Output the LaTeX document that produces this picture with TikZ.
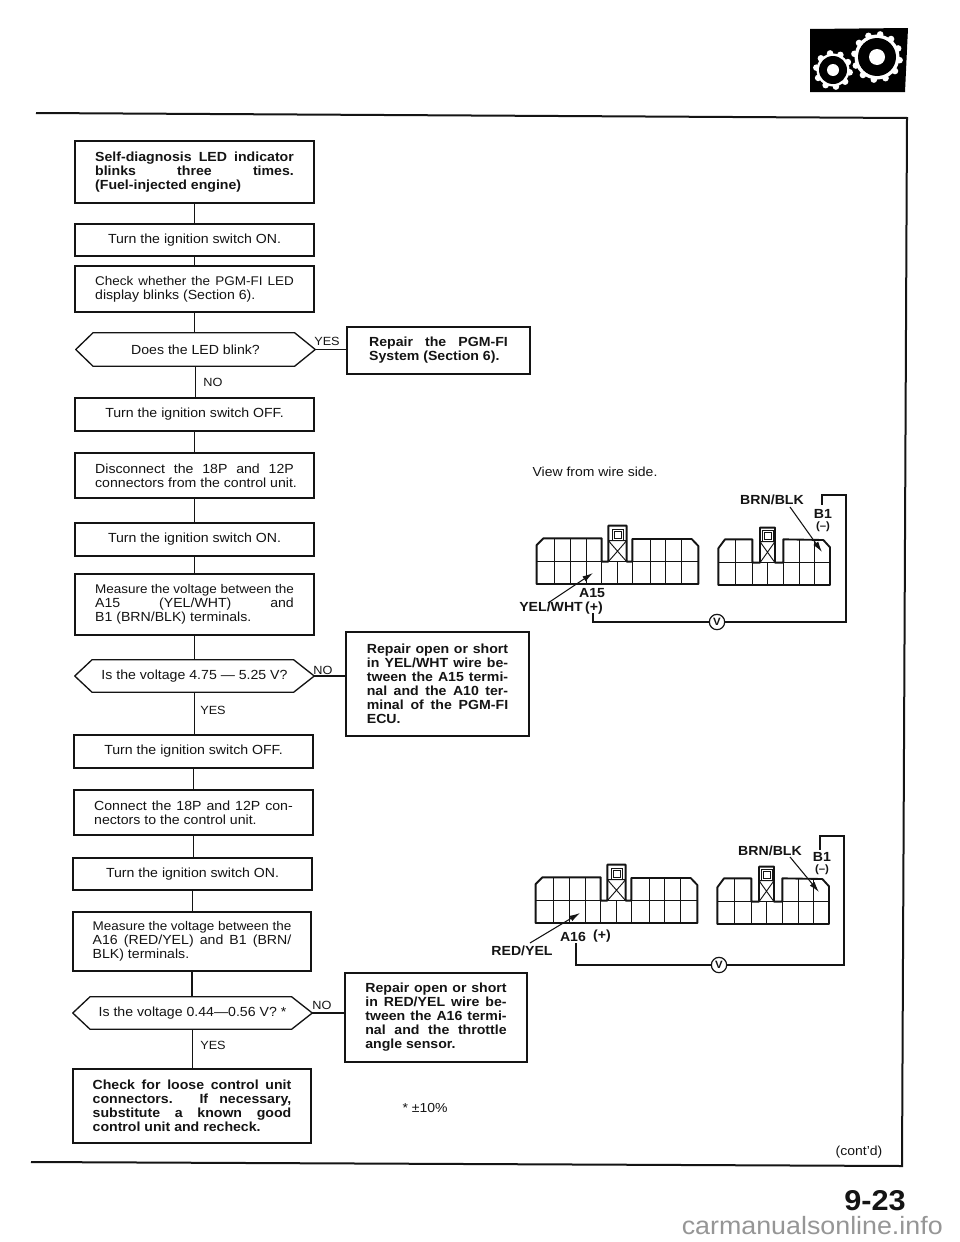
\documentclass[tikz,border=0pt]{standalone}
\usepackage{fontspec}
\setmainfont[FakeStretch=1.07]{Liberation Sans}
\usetikzlibrary{arrows.meta,calc}
\definecolor{ink}{gray}{0.08}
\newlength{\tw}
\newcommand{\lnj}[1]{\makebox[\tw][s]{#1}}
\newcommand{\lnl}[1]{\makebox[\tw][l]{#1}}
\newcommand{\tight}{\fontsize{9.45}{10.5}\selectfont}
\tikzset{
  flowbox/.style={draw=ink,line width=1pt,inner sep=0pt,align=left,text=ink,font=\fontsize{9.9}{10.5}\selectfont},
  boldbox/.style={flowbox,font=\fontsize{9.9}{10.5}\selectfont\bfseries},
  hexnode/.style={inner sep=0pt,text=ink,font=\fontsize{9.9}{10.5}\selectfont},
  link/.style={draw=ink,line width=0.9pt},
  lbl/.style={inner sep=0pt,text=ink,font=\fontsize{8.9}{10}\selectfont},
  txt/.style={inner sep=0pt,text=ink,font=\fontsize{9.8}{10}\selectfont},
  blbl/.style={inner sep=0pt,text=ink,font=\fontsize{9.9}{10}\selectfont\bfseries},
  small bold/.style={inner sep=0pt,text=ink,font=\fontsize{8}{8}\selectfont\bfseries},
  volt/.style={draw=ink,circle,line width=0.9pt,inner sep=0pt,minimum size=11.5pt,text=ink,font=\fontsize{8}{8}\selectfont\bfseries},
  wire/.style={draw=ink,line width=0.9pt},
  leader/.style={draw=ink,line width=0.8pt,-{Latex[length=8pt,width=4.5pt]}},
  heavy/.style={draw=ink,line width=1.5pt},
  thin grid/.style={draw=ink,line width=0.7pt},
  outl/.style={draw=ink,line width=1.4pt,line join=round},
}
\newcommand{\bx}[7][flowbox]{%
  \node[#1,minimum width={(#5-#3)*0.75pt},minimum height={(#6-#4)*0.75pt}] (#2) at ({(#3+#5)/2},{(#4+#6)/2}) {#7};}
\newcommand{\hexa}[6]{% name x1 y1 x2 y2 text
  \node[hexnode,minimum width={(#4-#2)*0.75pt},minimum height={(#5-#3)*0.75pt}] (#1) at ({(#2+#4)/2},{(#3+#5)/2}) {#6};
  \draw[link,line width=1pt,line join=round] (#1.west) -- ([xshift=13pt]#1.north west) -- ([xshift=-15.5pt]#1.north east) -- (#1.east) -- ([xshift=-15.5pt]#1.south east) -- ([xshift=13pt]#1.south west) -- cycle;}
\newcommand{\conn}{%
  \draw[outl] (110,402)--(110,285)--(130,265)--(305,265)--(305,335)--(325,335)--(325,227)--(380,227)--(380,335)--(397,335)--(397,267)--(575,267)--(595,288)--(595,402)--cycle;
  \draw[thin grid] (110,335)--(595,335);
  \foreach \X in {163,212,258,305,352,397,450,497,545} \draw[thin grid] (\X,335)--(\X,402);
  \foreach \X in {163,212,258,450,497,545} \draw[thin grid] (\X,267)--(\X,335);
  \draw[thin grid] (325,272)--(380,272) (325,272)--(380,335) (380,272)--(325,335);
  \draw[thin grid] (336,238)rectangle(370,272) (342,244)rectangle(364,264);
  \draw[outl] (655,405)--(655,295)--(675,268)--(757,268)--(757,338)--(780,338)--(780,233)--(825,233)--(825,338)--(850,338)--(850,268)--(970,270)--(990,292)--(990,405)--cycle;
  \draw[thin grid] (655,338)--(990,338);
  \foreach \X in {707,757,803,850,897,943} \draw[thin grid] (\X,338)--(\X,405);
  \foreach \X in {707,897,943} \draw[thin grid] (\X,270)--(\X,338);
  \draw[thin grid] (780,275)--(825,275) (780,275)--(825,338) (825,275)--(780,338);
  \draw[thin grid] (787,240)rectangle(820,275) (793,246)rectangle(814,268);
}
\newcommand{\gear}[6]{% x y teeth tip body hole
  \fill[white] (#1,#2) circle[radius=#4-3.5];
  \foreach \a in {1,...,#3} \fill[white] ({#1+(#4-3.2)*cos(\a*360/#3+8)},{#2+(#4-3.2)*sin(\a*360/#3+8)}) circle[radius=3.3];
  \fill[black] (#1,#2) circle[radius=#5];
  \fill[white] (#1,#2) circle[radius=#6];
}
\begin{document}
\begin{tikzpicture}[x=0.75pt,y=-0.75pt]
\useasboundingbox (0,0) rectangle (960,1242);
\fill[white] (0,0) rectangle (960,1242);

% icon
\fill[black] (810,29)--(908,28)--(905,92)--(810,92)--cycle;
\gear{833}{70}{10}{20}{14}{6}
\gear{877}{57}{12}{26}{19}{8}

% page rules
\draw[heavy] (36,113)--(907,118)--(902,1166)--(31,1162);

% flow boxes
\setlength{\tw}{149pt}
\bx[boldbox]{b1}{75}{141}{314}{203}{\lnj{Self-diagnosis LED indicator}\\\lnj{blinks three times.}\\\lnl{(Fuel-injected engine)}}
\bx{b2}{75}{224}{314}{256}{Turn the ignition switch ON.}
\bx{b3}{75}{266}{314}{312}{\lnj{\tight Check whether the PGM-FI LED}\\\lnl{display blinks (Section 6).}}
\hexa{d1}{76}{333}{315}{366}{Does the LED blink?}
\setlength{\tw}{104pt}
\bx[boldbox]{r1}{347}{327}{530}{374}{\lnj{Repair the PGM-FI}\\\lnl{System (Section 6).}}
\setlength{\tw}{149pt}
\bx{b4}{75}{398}{314}{431}{Turn the ignition switch OFF.}
\bx{b5}{75}{453}{314}{498}{\lnj{Disconnect the 18P and 12P}\\\lnl{connectors from the control unit.}}
\bx{b6}{75}{523}{314}{556}{Turn the ignition switch ON.}
\bx{b7}{75}{574}{314}{635}{\lnj{\tight Measure the voltage between the}\\\lnj{A15 (YEL/WHT) and}\\\lnl{B1 (BRN/BLK) terminals.}}
\hexa{d2}{75}{660}{314}{692}{Is the voltage 4.75 — 5.25 V?}
\setlength{\tw}{106pt}
\bx[boldbox]{r2}{346}{632}{529}{736}{\lnj{Repair open or short}\\\lnj{in YEL/WHT wire be-}\\\lnj{tween the A15 termi-}\\\lnj{nal and the A10 ter-}\\\lnj{minal of the PGM-FI}\\\lnl{ECU.}}
\setlength{\tw}{149pt}
\bx{b8}{74}{735}{313}{768}{Turn the ignition switch OFF.}
\bx{b9}{74}{790}{313}{835}{\lnj{Connect the 18P and 12P con-}\\\lnl{nectors to the control unit.}}
\bx{b10}{73}{858}{312}{890}{Turn the ignition switch ON.}
\bx{b11}{73}{912}{311}{971}{\lnj{\tight Measure the voltage between the}\\\lnj{A16 (RED/YEL) and B1 (BRN/}\\\lnl{BLK) terminals.}}
\hexa{d3}{73}{997}{312}{1029}{Is the voltage 0.44—0.56 V? *}
\setlength{\tw}{106pt}
\bx[boldbox]{r3}{345}{973}{527}{1062}{\lnj{Repair open or short}\\\lnj{in RED/YEL wire be-}\\\lnj{tween the A16 termi-}\\\lnj{nal and the throttle}\\\lnl{angle sensor.}}
\setlength{\tw}{149pt}
\bx[boldbox]{b12}{73}{1069}{311}{1143}{\lnj{Check for loose control unit}\\\lnj{connectors. If necessary,}\\\lnj{substitute a known good}\\\lnl{control unit and recheck.}}

% flow links
\draw[link] (b1.south) -- (b1.south |- b2.north);
\draw[link] (b2.south) -- (b2.south |- b3.north);
\draw[link] (b3.south) -- (b3.south |- d1.north);
\draw[link] (d1.south) -- (d1.south |- b4.north);
\draw[link] (b4.south) -- (b4.south |- b5.north);
\draw[link] (b5.south) -- (b5.south |- b6.north);
\draw[link] (b6.south) -- (b6.south |- b7.north);
\draw[link] (b7.south) -- (b7.south |- d2.north);
\draw[link] (d2.south) -- (d2.south |- b8.north);
\draw[link] (b8.south) -- (b8.south |- b9.north);
\draw[link] (b9.south) -- (b9.south |- b10.north);
\draw[link] (b10.south) -- (b10.south |- b11.north);
\draw[link] (b11.south) -- (b11.south |- d3.north);
\draw[link] (d3.south) -- (d3.south |- b12.north);
\draw[link] (d1.east) -- (d1.east -| r1.west);
\draw[link] (d2.east) -- (d2.east -| r2.west);
\draw[link] (d3.east) -- (d3.east -| r3.west);

\node[lbl] (l1) at (327,341) {YES};
\node[lbl] (l2) at (213,382) {NO};
\node[lbl] (l3) at (323,670) {NO};
\node[lbl] (l4) at (213,710) {YES};
\node[lbl] (l5) at (322,1005) {NO};
\node[lbl] (l6) at (213,1045) {YES};

% upper connector diagram
\node[txt] (view) at (595,472) {View from wire side.};
\begin{scope}[shift={(500,450)},x=0.25pt,y=-0.25pt]\conn\end{scope}
\node[blbl] (brn1) at (772,500) {BRN/BLK};
\node[blbl] (b1a) at (823,514) {B1};
\node[small bold] (m1) at (823,527) {(–)};
\node[blbl] (a15) at (592,593) {A15};
\node[blbl] (yel) at (561,608) {YEL/WHT\,(+)};
\node[volt] (v1) at (717,622) {V};
\coordinate (s1) at (593,613);
\coordinate (e1) at (822,505);
\coordinate (t1a) at (822,552);
\coordinate (t1b) at (593,573);
\coordinate (f1a) at (790,507);
\coordinate (f1b) at (548,603);
\draw[wire] (s1) -- (s1 |- v1) -- (v1);
\draw[wire] (v1) -- (846,622) -- (846,495) -- (e1 |- 0,495) -- (e1);
\draw[leader] (f1a) -- (t1a);
\draw[leader] (f1b) -- (t1b);

% lower connector diagram
\begin{scope}[shift={(499,789)},x=0.25pt,y=-0.25pt]\conn\end{scope}
\node[blbl] (brn2) at (770,851) {BRN/BLK};
\node[blbl] (b1b) at (822,857) {B1};
\node[small bold] (m2) at (822,870) {(–)};
\node[blbl] (a16) at (573,937) {A16};
\node[blbl] (pl) at (602,936) {(+)};
\node[blbl] (red) at (522,951) {RED/YEL};
\node[volt] (v2) at (719,965) {V};
\coordinate (s2) at (576,943);
\coordinate (e2) at (820,850);
\coordinate (t2a) at (819,892);
\coordinate (t2b) at (580,913);
\coordinate (f2a) at (790,857);
\coordinate (f2b) at (530,943);
\draw[wire] (s2) -- (s2 |- v2) -- (v2);
\draw[wire] (v2) -- (844,965) -- (844,836) -- (e2 |- 0,836) -- (e2);
\draw[leader] (f2a) -- (t2a);
\draw[leader] (f2b) -- (t2b);

% page texts
\node[txt] (tol) at (425,1108) {* ±10\%};
\node[txt] (cont) at (859,1152) {(cont'd)};
\node[inner sep=0pt,anchor=base,text=ink,font=\fontsize{21.5}{22}\selectfont\bfseries] (pg) at (875,1210) {9-23};
\node[inner sep=0pt,anchor=base east,text={rgb,255:red,150;green,150;blue,150},font=\fontsize{18.8}{20}\selectfont] (wm) at (943,1234) {carmanualsonline.info};
\end{tikzpicture}
\end{document}
